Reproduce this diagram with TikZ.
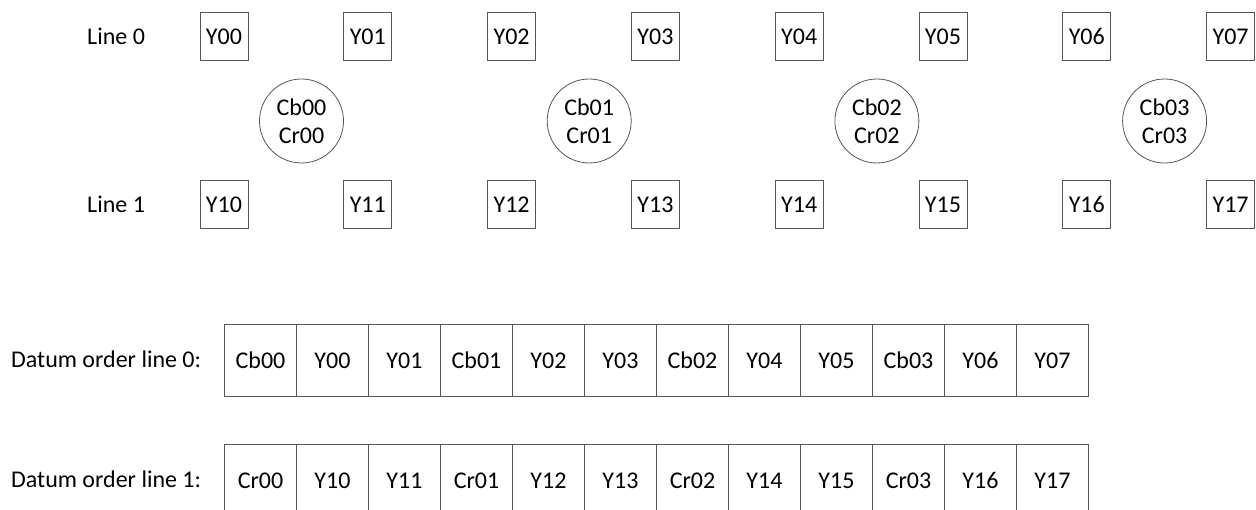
\documentclass[tikz,border=0pt]{standalone}
\usepackage{fontspec}
\setmainfont{Carlito}
\definecolor{edge}{RGB}{85,85,85}
\begin{document}
\begin{tikzpicture}[x=1pt,y=-1pt,
  every node/.style={font=\fontsize{24}{28}\selectfont, inner sep=0pt},
  capsline/.style={text height=15.5pt, text depth=0pt},
  sample/.style={capsline, draw=edge, line width=1pt, minimum width=48pt, minimum height=48pt},
  chroma/.style={draw=edge, line width=0.8pt, circle, minimum size=84pt, align=center},
  cell/.style={capsline, draw=edge, line width=1pt, minimum width=72pt, minimum height=72pt, anchor=north west},
  rowlabel/.style={capsline, anchor=west}]
\clip (0,0) rectangle (1256,510);

% sample grid: two lines of luma samples
\node[rowlabel] (line0) at (87,37) {Line 0};
\node[rowlabel] (line1) at (87,205) {Line 1};
\foreach \k in {0,...,7} {
  \node[sample] (y0\k) at ({224+143.8*\k},37) {Y0\k};
  \node[sample] (y1\k) at ({224+143.8*\k},205) {Y1\k};
}
% shared chroma samples
\foreach \k in {0,...,3} {
  \node[chroma] (c\k) at ({301.5+287.7*\k},121) {Cb0\k\\Cr0\k};
}

% datum order of each line
\node[rowlabel] (order0) at (11,360) {Datum order line 0:};
\node[rowlabel] (order1) at (11,480) {Datum order line 1:};
\foreach \lbl [count=\i from 0] in {Cb00,Y00,Y01,Cb01,Y02,Y03,Cb02,Y04,Y05,Cb03,Y06,Y07} {
  \node[cell] (a\i) at ({224+72*\i},324) {\lbl};
}
\foreach \lbl [count=\i from 0] in {Cr00,Y10,Y11,Cr01,Y12,Y13,Cr02,Y14,Y15,Cr03,Y16,Y17} {
  \node[cell] (b\i) at ({224+72*\i},444) {\lbl};
}
\end{tikzpicture}
\end{document}
